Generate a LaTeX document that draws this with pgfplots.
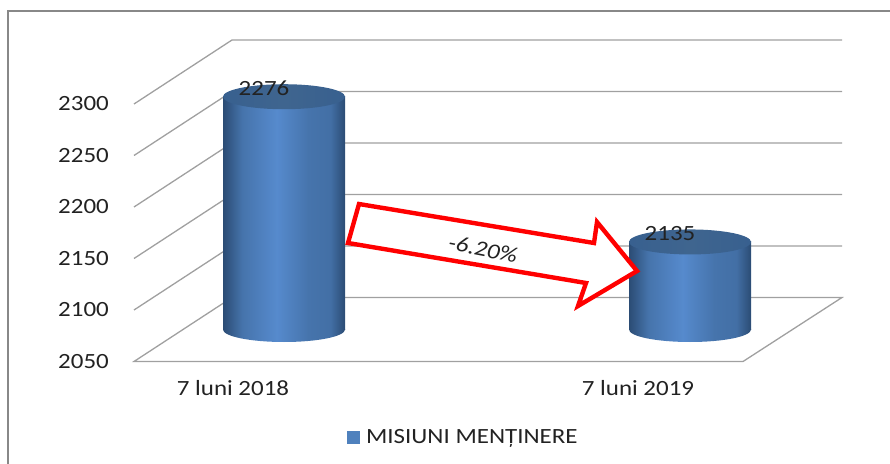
\documentclass[border=0pt]{standalone}
\usepackage{pgfplots}
\pgfplotsset{compat=1.18}
\usepackage{fontspec}
\setmainfont{Carlito}[FakeStretch=1.15]
\definecolor{cylDark}{HTML}{2B4C74}
\definecolor{cylMid}{HTML}{4674AC}
\definecolor{cylLight}{HTML}{568ACD}
\definecolor{capA}{HTML}{38608F}
\definecolor{capB}{HTML}{3F658F}
\definecolor{gridg}{HTML}{A0A0A0}
\definecolor{txt}{HTML}{222222}
\definecolor{frameg}{HTML}{888888}
\definecolor{legblue}{HTML}{4F81BD}
\pgfdeclarehorizontalshading{cyl}{100bp}{color(0bp)=(cylDark); color(25bp)=(cylDark); color(33bp)=(cylMid); color(47bp)=(cylLight); color(60bp)=(cylMid); color(69bp)=(cylMid!88!cylDark); color(75bp)=(cylDark); color(100bp)=(cylDark)}
\pgfdeclarehorizontalshading{capsh}{100bp}{color(0bp)=(capA); color(25bp)=(capA); color(50bp)=(capB); color(75bp)=(capA); color(100bp)=(capA)}
% lower half of the base ellipse, so that it does not depend on the drawing order
\pgfdeclareplotmark{cylbase}{\pgfpathmoveto{\pgfpoint{-61pt}{0.5pt}}\pgfpathlineto{\pgfpoint{-61pt}{0pt}}\pgfpatharc{180}{360}{61pt and 12.5pt}\pgfpathlineto{\pgfpoint{61pt}{0.5pt}}\pgfpathclose\pgfshadepath{cyl}{0}\pgfusepath{discard}}
\pgfdeclareplotmark{cylcap}{\pgfpathellipse{\pgfpointorigin}{\pgfpoint{61pt}{0pt}}{\pgfpoint{0pt}{12.5pt}}\pgfshadepath{capsh}{0}\pgfusepath{discard}}
\pgfplotstableread{
x y
284 2276
690 2135
}\values
\pgfplotstableread{
x y
284 2050
690 2050
}\bases
\begin{document}
\begin{tikzpicture}[x=1pt,y=1pt]
\useasboundingbox (0,0) rectangle (890,463);
\begin{axis}[
  at={(134pt,101.5pt)}, anchor=south west,
  scale only axis, width=708pt, height=322pt,
  xmin=134, xmax=842, ymin=2050, ymax=2362.62,
  clip=false,
  axis line style={draw=none},
  major tick length=0pt,
  ytick={2050,2100,2150,2200,2250,2300},
  xtick={233,638},
  xticklabels={7 luni 2018,7 luni 2019},
  yticklabel style={anchor=east,inner sep=0pt,xshift=-25pt,text=txt},
  xticklabel style={anchor=center,inner sep=0pt,yshift=-26.5pt,text=txt},
  /pgf/number format/assume math mode=true,
  /pgf/number format/1000 sep={},
  tick label style={font=\fontsize{21.7}{24}\selectfont},
  legend style={at={(axis cs:347,1976.2)},anchor=west,draw=none,fill=none,inner sep=0pt,
    font=\fontsize{21.7}{24}\selectfont,text=txt},
  every axis plot/.append style={forget plot},
]
% walls and floor
\pgfplotsinvokeforeach{2100,2150,2200,2250,2300}{
  \addplot[gridg,line width=1.3pt,mark=none,line join=miter] coordinates {(134,#1) (232,#1+62.14) (842,#1+62.14)};
}
\addplot[gridg,line width=1.3pt,mark=none] coordinates {(232,2112.14) (134,2050) (743,2050) (842,2112.14) (232,2112.14)};
% cylinders
\addplot[only marks,mark=cylbase,yshift=32pt] table[x=x,y=y] {\bases};
\addplot[ybar,bar width=122pt,bar shift=0pt,draw=none,shading=cyl,yshift=32pt] coordinates {(284,2276)};
\addplot[ybar,bar width=122pt,bar shift=0pt,draw=none,shading=cyl,yshift=32pt] coordinates {(690,2135)};
\addplot[only marks,mark=cylcap,yshift=32pt,
  point meta=y,
  nodes near coords={\pgfmathprintnumber[assume math mode=true,1000 sep={}]{\pgfplotspointmeta}},
  every node near coord/.style={anchor=center,inner sep=0pt,xshift=-20pt,yshift=8.5pt,text=txt,font=\fontsize{21.7}{24}\selectfont}
  ] table[x=x,y=y] {\values};
\addlegendimage{legend image code/.code={\fill[legblue] (0pt,-6pt) rectangle (12pt,6pt);}}
\addlegendentry{\hspace{4.5pt}MISIUNI MENȚINERE}
\end{axis}
% annotation arrow and frame
\draw[red,fill=white,line width=4.4pt,miter limit=10]
  (359,259) -- (348,220) -- (586,180) -- (578,157) -- (637,192) -- (597,241) -- (594,220) -- cycle;
\node[rotate=-11,font=\fontsize{21.7}{24}\selectfont\itshape,text=txt,inner sep=0pt] at (483,214) {-6.20\%};
\draw[frameg,line width=1.6pt] (8,-5) -- (8,452) -- (895,452);
\end{tikzpicture}
\end{document}
